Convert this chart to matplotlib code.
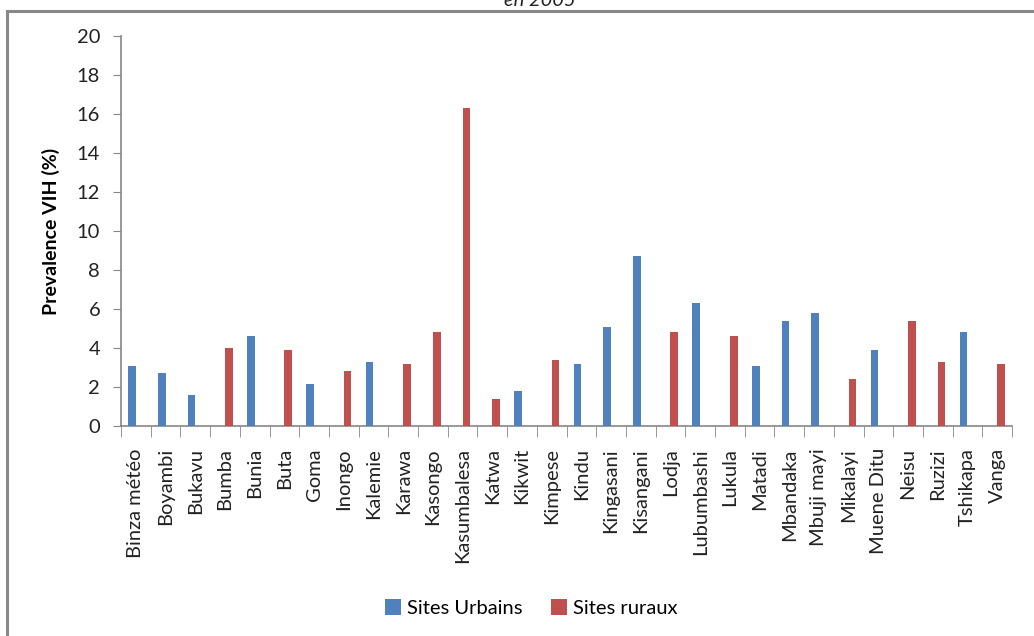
import matplotlib
matplotlib.use("Agg")
import matplotlib.pyplot as plt
import numpy as np
from matplotlib.patches import Rectangle

sites = ["Binza météo", "Boyambi", "Bukavu", "Bumba", "Bunia", "Buta", "Goma",
         "Inongo", "Kalemie", "Karawa", "Kasongo", "Kasumbalesa", "Katwa",
         "Kikwit", "Kimpese", "Kindu", "Kingasani", "Kisangani", "Lodja",
         "Lubumbashi", "Lukula", "Matadi", "Mbandaka", "Mbuji mayi", "Mikalayi",
         "Muene Ditu", "Neisu", "Ruzizi", "Tshikapa", "Vanga"]

# None where the site is not in that series
urbains = [3.1, 2.7, 1.6, None, 4.6, None, 2.15, None, 3.3, None, None, None,
           None, 1.8, None, 3.2, 5.1, 8.7, None, 6.3, None, 3.1, 5.4, 5.8,
           None, 3.9, None, None, 4.8, None]
ruraux = [None, None, None, 4.0, None, 3.9, None, 2.8, None, 3.2, 4.8, 16.3,
          1.4, None, 3.4, None, None, None, 4.8, None, 4.6, None, None, None,
          2.4, None, 5.4, 3.3, None, 3.2]

yticks = list(range(0, 21, 2))

plt.rcParams["font.family"] = ["Lato", "DejaVu Sans"]

BLUE = "#4F81BD"
RED = "#C0504D"
GREY = "#868686"

fig = plt.figure(figsize=(10.34, 6.36), dpi=100)
ax = fig.add_axes([121 / 1034, 1 - 426 / 636, (1012 - 121) / 1034, (426 - 36) / 636])

x = np.arange(len(sites))
w = 0.26
u_idx = [i for i, v in enumerate(urbains) if v is not None]
r_idx = [i for i, v in enumerate(ruraux) if v is not None]
ax.bar(x[u_idx] - w / 2, [urbains[i] for i in u_idx], width=w, color=BLUE,
       label="Sites Urbains", zorder=3)
ax.bar(x[r_idx] + w / 2, [ruraux[i] for i in r_idx], width=w, color=RED,
       label="Sites ruraux", zorder=3)

ax.set_xlim(-0.5, len(sites) - 0.5)
ax.set_ylim(0, 20)
ax.set_yticks(yticks)
ax.tick_params(axis="y", labelsize=14.5, length=6, color=GREY, pad=9, labelcolor="#222222")

ax.set_xticks(x)
ax.set_xticklabels(sites, rotation=90, fontsize=14.5, va="top", ha="center")
ax.tick_params(axis="x", which="major", length=0, pad=16, labelcolor="#222222")
ax.set_xticks(np.arange(-0.5, len(sites), 1), minor=True)
ax.tick_params(axis="x", which="minor", length=8, color=GREY)

for s in ["top", "right"]:
    ax.spines[s].set_visible(False)
for s in ["left", "bottom"]:
    ax.spines[s].set_color(GREY)
    ax.spines[s].set_linewidth(1.2)

ax.set_ylabel("Prevalence VIH (%)", fontsize=14, fontweight="bold", labelpad=12)

fig.legend(loc="center", bbox_to_anchor=(0.514, 1 - 608 / 636), ncol=2,
           frameon=False, fontsize=14.5, handlelength=0.8, handleheight=0.8,
           handletextpad=0.3, columnspacing=1.4)

fig.text(0.522, 1 - 1 / 636, "en 2005", ha="center", va="center",
         fontsize=14.5, style="italic", color="#222222")

fig.patches.append(Rectangle((6.5 / 1034, -0.05), 1.1, 1 - 11.5 / 636 + 0.05,
                             transform=fig.transFigure, fill=False,
                             edgecolor="#888888", linewidth=2.2))

fig.savefig("out.png", dpi=100)
